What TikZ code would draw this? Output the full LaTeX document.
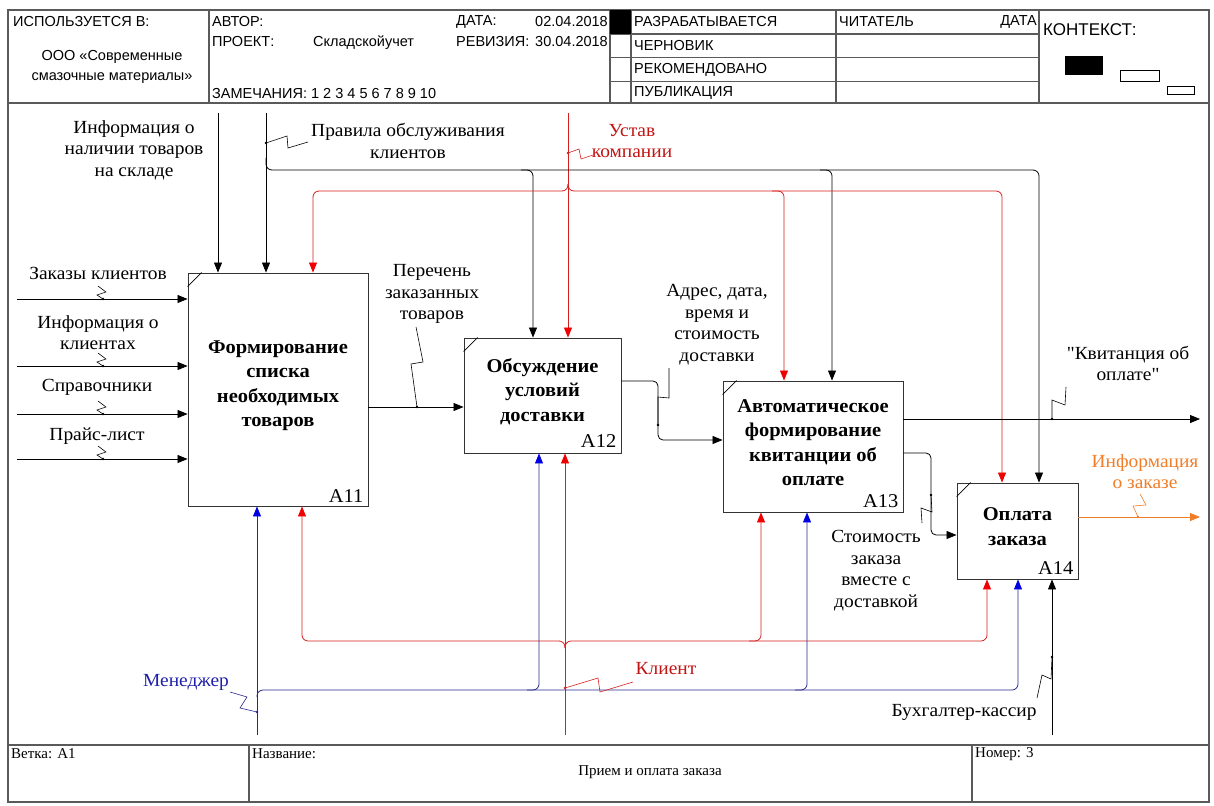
\documentclass[tikz,border=0pt]{standalone}
\usepackage{fontspec}
\setmainfont{Liberation Serif}[FakeStretch=1.05, Ligatures=TeXOff]
\newfontfamily\hdrfont{Liberation Sans}
\newfontfamily\stripfont{Liberation Serif}
\usetikzlibrary{arrows.meta}
\usetikzlibrary{calc}
\usetikzlibrary{positioning}

\definecolor{idefred}{RGB}{215,30,30}
\definecolor{tipred}{RGB}{240,0,0}
\definecolor{labelred}{RGB}{195,20,20}
\definecolor{idefblue}{RGB}{40,40,140}
\definecolor{tipblue}{RGB}{0,0,225}
\definecolor{labelblue}{RGB}{30,30,170}
\definecolor{ideforange}{RGB}{240,125,40}
\definecolor{framegray}{RGB}{90,90,90}

\tikzset{
  frameline/.style={draw=framegray, line width=1.1pt},
  hdr/.style={font=\hdrfont\fontsize{14.5}{20}\selectfont, inner sep=0pt, anchor=west},
  strip/.style={font=\stripfont\fontsize{15}{17}\selectfont, inner sep=0pt, anchor=west},
  func/.style={draw=black!80, line width=0.9pt, inner sep=0pt},
  ftext/.style={align=center, font=\bfseries\fontsize{19.5}{24.5}\selectfont, inner sep=0pt},
  fnum/.style={font=\fontsize{19.5}{20}\selectfont, inner sep=1pt, anchor=south east},
  lbl/.style={align=center, font=\fontsize{18.5}{21.5}\selectfont, inner sep=0pt},
  arr/.style={draw=black, line width=0.8pt, -{Triangle[length=10pt,width=8pt]}},
  rarr/.style={draw=idefred, line width=0.8pt, -{Triangle[length=10pt,width=8pt,color=tipred]}},
  barr/.style={draw=idefblue, line width=0.8pt, -{Triangle[length=10pt,width=8pt,color=tipblue]}},
  oarr/.style={draw=ideforange, line width=0.8pt, -{Triangle[length=10pt,width=8pt]}},
  tick/.style={line width=0.6pt},
  dot/.style={circle, fill, inner sep=0pt, minimum size=2.6pt},
}

\begin{document}
\begin{tikzpicture}[x=1pt,y=-1pt]
\useasboundingbox (0,0) rectangle (1214,805);

% frame and header
\draw[frameline] (8,10) rectangle (1209,802);
\draw[frameline] (8,103) -- (1209,103);
\draw[frameline] (209,10) -- (209,103);
\draw[frameline] (610,10) -- (610,103);
\draw[frameline] (631,10) -- (631,103);
\draw[frameline] (836,10) -- (836,103);
\draw[frameline] (1039,10) -- (1039,103);
\draw[frameline] (610,34) -- (1039,34);
\draw[frameline] (610,57.5) -- (1039,57.5);
\draw[frameline] (610,81.5) -- (1039,81.5);
\fill (610,10) rectangle (631,34);

\node[hdr] (usedin) at (13,22) {ИСПОЛЬЗУЕТСЯ В:};
\node[hdr, anchor=center, align=center] (org) at (112,67) {ООО «Современные\\смазочные материалы»};
\node[hdr] (author) at (212,22) {АВТОР:};
\node[hdr] (project) at (212,42) {ПРОЕКТ:};
\node[hdr] (projname) at (313,43) {Складскойучет};
\node[hdr] (datelbl) at (456,22) {ДАТА:};
\node[hdr, anchor=east] (dateval) at (608,22) {02.04.2018};
\node[hdr] (revlbl) at (456,42) {РЕВИЗИЯ:};
\node[hdr, anchor=east] (revval) at (608,42) {30.04.2018};
\node[hdr] (notes) at (212,94) {ЗАМЕЧАНИЯ: 1 2 3 4 5 6 7 8 9 10};
\node[hdr] (st1) at (634,22) {РАЗРАБАТЫВАЕТСЯ};
\node[hdr] (st2) at (634,46) {ЧЕРНОВИК};
\node[hdr] (st3) at (634,70) {РЕКОМЕНДОВАНО};
\node[hdr] (st4) at (634,93) {ПУБЛИКАЦИЯ};
\node[hdr] (reader) at (839,22) {ЧИТАТЕЛЬ};
\node[hdr, anchor=east] (rdate) at (1037,22) {ДАТА};
\node[hdr, font=\hdrfont\fontsize{17}{20}\selectfont] (context) at (1043,30) {КОНТЕКСТ:};
\fill (1065,56) rectangle (1103,75);
\draw[line width=0.7pt] (1120,70.5) rectangle (1159,81.5);
\draw[line width=0.7pt] (1167,86) rectangle (1194,94.5);

% bottom strip
\draw[frameline] (8,745) -- (1209,745);
\draw[frameline] (249,745) -- (249,802);
\draw[frameline] (972,745) -- (972,802);
\node[strip] (branch) at (11,754) {Ветка: A1};
\node[strip] (title) at (252,754) {Название:};
\node[strip, anchor=center] (titletext) at (650,772) {Прием и оплата заказа};
\node[strip] (number) at (975,754) {Номер: 3};

% functions
\node[func, minimum width=180pt, minimum height=233pt] (A11) at (278,389.5) {};
\node[func, minimum width=157pt, minimum height=115pt] (A12) at (542.5,395.5) {};
\node[func, minimum width=180pt, minimum height=131pt] (A13) at (813,446.5) {};
\node[func, minimum width=121pt, minimum height=96pt] (A14) at (1017.5,531) {};
\node[ftext] (A11t) at ($(A11)+(0,-4)$) {Формирование\\списка\\необходимых\\товаров};
\node[ftext] (A12t) at ($(A12)+(0,-4)$) {Обсуждение\\условий\\доставки};
\node[ftext] (A13t) at ($(A13)+(0,-4)$) {Автоматическое\\формирование\\квитанции об\\оплате};
\node[ftext] (A14t) at ($(A14)+(0,-4.5)$) {Оплата\\заказа};
\node[fnum] (A11n) at ($(A11.south east)+(-4,-3)$) {A11};
\node[fnum] (A12n) at ($(A12.south east)+(-4,-5)$) {A12};
\node[fnum] (A13n) at ($(A13.south east)+(-4,-4)$) {A13};
\node[fnum] (A14n) at ($(A14.south east)+(-4,-4)$) {A14};
\draw[line width=0.7pt] (A11.north west) ++(0,14) -- ++(14,-14);
\draw[line width=0.7pt] (A12.north west) ++(0,14) -- ++(14,-14);
\draw[line width=0.7pt] (A13.north west) ++(0,14) -- ++(14,-14);
\draw[line width=0.7pt] (A14.north west) ++(0,14) -- ++(14,-14);

% controls
\coordinate (cInfo) at (218,113);
\coordinate (cRules) at (266,113);
\coordinate (cCharter) at (568,113);
\draw[arr] (cInfo) -- (cInfo |- A11.north);
\draw[arr] (cRules) -- (cRules |- A11.north);
\draw[rarr] (cCharter) -- (cCharter |- A12.north);

\coordinate (kBus) at (266,170);
\coordinate (kA12) at (533,170);
\coordinate (kA13) at (832,170);
\coordinate (kA14) at (1039,170);
\draw[arr, rounded corners=6pt] ($(kBus)+(0,-12)$) |- (kA14) -- (kA14 |- A14.north);
\draw[arr, rounded corners=6pt] ($(kA12)+(-12,0)$) -| (kA12 |- A12.north);
\draw[arr, rounded corners=6pt] ($(kA13)+(-12,0)$) -| (kA13 |- A13.north);

\coordinate (rJ) at (568,191);
\coordinate (rA11) at (313,191);
\coordinate (rA13) at (784,191);
\coordinate (rA14) at (1002,191);
\draw[rarr, rounded corners=6pt] ($(rJ)+(0,-7)$) |- (rA11) -- (rA11 |- A11.north);
\draw[rarr, rounded corners=6pt] ($(rJ)+(0,-7)$) |- (rA14) -- (rA14 |- A14.north);
\draw[rarr, rounded corners=6pt] ($(rA13)+(-12,0)$) -| (rA13 |- A13.north);

% inputs
\coordinate (iOrders) at (17,299);
\coordinate (iClients) at (17,366);
\coordinate (iRefs) at (17,414);
\coordinate (iPrice) at (17,459);
\draw[arr] (iOrders) -- (iOrders -| A11.west);
\draw[arr] (iClients) -- (iClients -| A11.west);
\draw[arr] (iRefs) -- (iRefs -| A11.west);
\draw[arr] (iPrice) -- (iPrice -| A11.west);

% outputs
\coordinate (oList) at (417,407);
\draw[arr] (oList -| A11.east) -- (oList -| A12.west);
\coordinate (oAddr1) at (658,381);
\coordinate (oAddr2) at (658,440);
\draw[arr, rounded corners=5pt] (oAddr1 -| A12.east) -- (oAddr1) -- (oAddr2) -- (oAddr2 -| A13.west);
\coordinate (oRcpt) at (1200,419);
\draw[arr] (oRcpt -| A13.east) -- (oRcpt);
\coordinate (oCost1) at (931,453);
\coordinate (oCost2) at (931,535);
\draw[arr, rounded corners=5pt] (oCost1 -| A13.east) -- (oCost1) -- (oCost2) -- (oCost2 -| A14.west);
\coordinate (oInfo) at (1200,517);
\draw[oarr] (oInfo -| A14.east) -- (oInfo);

% mechanisms
\coordinate (mMgr) at (257,735);
\coordinate (mClient) at (565,735);
\coordinate (mCash) at (1052,735);
\draw[barr] (mMgr) -- (mMgr |- A11.south);
\draw[rarr] (mClient) -- (mClient |- A12.south);
\draw[arr] (mCash) -- (mCash |- A14.south);

\coordinate (cJ) at (565,641);
\coordinate (cA11) at (302,641);
\coordinate (cA13) at (761,641);
\coordinate (cA14) at (987,641);
\draw[rarr, rounded corners=6pt] ($(cJ)+(0,7)$) |- (cA11) -- (cA11 |- A11.south);
\draw[rarr, rounded corners=6pt] ($(cJ)+(0,7)$) |- (cA14) -- (cA14 |- A14.south);
\draw[rarr, rounded corners=6pt] ($(cA13)+(-12,0)$) -| (cA13 |- A13.south);

\coordinate (bJ) at (257,690);
\coordinate (bA12) at (539,690);
\coordinate (bA13) at (807,690);
\coordinate (bA14) at (1018,690);
\draw[barr, rounded corners=6pt] ($(bJ)+(0,7)$) |- (bA14) -- (bA14 |- A14.south);
\draw[barr, rounded corners=6pt] ($(bA12)+(-12,0)$) -| (bA12 |- A12.south);
\draw[barr, rounded corners=6pt] ($(bA13)+(-12,0)$) -| (bA13 |- A13.south);

% labels
\node[lbl] (lInfo) at (134,150) {Информация о\\наличии товаров\\на складе};
\node[lbl] (lRules) at (408,141) {Правила обслуживания\\клиентов};
\node[lbl, text=labelred] (lCharter) at (632,141) {Устав\\компании};
\node[lbl] (lOrders) at (98,273) {Заказы клиентов};
\node[lbl] (lClients) at (98,332.5) {Информация о\\клиентах};
\node[lbl] (lRefs) at (97,387) {Справочники};
\node[lbl] (lPrice) at (97,436) {Прайс-лист};
\node[lbl] (lList) at (432,294) {Перечень\\заказанных\\товаров};
\node[lbl] (lAddr) at (717,324.5) {Адрес, дата,\\время и\\стоимость\\доставки};
\node[lbl] (lRcpt) at (1128,363.5) {"Квитанция об\\оплате"};
\node[lbl, text=ideforange] (lInfoOut) at (1145,471.5) {Информация\\о заказе};
\node[lbl] (lCost) at (876,570.5) {Стоимость\\заказа\\вместе с\\доставкой};
\node[lbl, text=labelblue] (lMgr) at (186,682) {Менеджер};
\node[lbl, text=labelred] (lClient) at (666,669) {Клиент};
\node[lbl] (lCash) at (964,712) {Бухгалтер-кассир};

% squiggles
\coordinate (sOrders) at (103,299);
\coordinate (sClients) at (103,366);
\coordinate (sRefs) at (103,414);
\coordinate (sPrice) at (103,459);
\draw[tick] (sOrders) -- ++(-6,-4) -- ++(9,-3) -- ++(-8,-6);
\draw[tick] (sClients) -- ++(-6,-4) -- ++(9,-3) -- ++(-8,-6);
\draw[tick] (sRefs) -- ++(-6,-4) -- ++(9,-3) -- ++(-8,-6);
\draw[tick] (sPrice) -- ++(-6,-4) -- ++(9,-3) -- ++(-8,-6);
\coordinate (sRules) at (266,143);
\draw[tick] (sRules) -- ++(21,-7) -- ++(1,12) -- ++(20,-6);
\coordinate (sCharter) at (568,153);
\draw[tick, idefred] (sCharter) -- ++(11,-4) -- ++(2,10) -- ++(12,-4);
\draw[tick] (oList) -- ++(-6,-43) -- ++(12,-2) -- ++(-7,-35);
\coordinate (sAddr) at (658,425);
\draw[tick] (sAddr) -- ++(0,-28) -- ++(11,1) -- ++(0,-30);
\coordinate (sRcpt) at (1052,419);
\draw[tick] (sRcpt) -- ++(0,-19) -- ++(13,5) -- ++(1,-18);
\coordinate (sCost) at (931,495);
\draw[tick] (sCost) -- ++(1,17) -- ++(-11,-4) -- ++(1,15);
\coordinate (sInfo) at (1138,517);
\draw[tick, ideforange] (sInfo) -- ++(-5,-11) -- ++(13,-1) -- ++(-6,-11);
\coordinate (sCash) at (1052,657);
\draw[tick] (sCash) -- ++(-1,22) -- ++(-9,-4) -- ++(-5,23);
\coordinate (sClient) at (565,688);
\draw[tick, idefred] (sClient) -- ++(33,-10) -- ++(2,14) -- ++(33,-10);
\coordinate (sMgr) at (257,712);
\draw[tick, idefblue] (sMgr) -- ++(-17,-4) -- ++(7,-11) -- ++(-17,-5);
\foreach \s in {sOrders,sClients,sRefs,sPrice,sRules,oList,sAddr,sRcpt,sCost,sCash}
  \node[dot] at (\s) {};
\node[dot, idefred] at (sCharter) {};
\node[dot, idefred] at (sClient) {};
\node[dot, ideforange] at (sInfo) {};
\node[dot, idefblue] at (sMgr) {};
\end{tikzpicture}
\end{document}
